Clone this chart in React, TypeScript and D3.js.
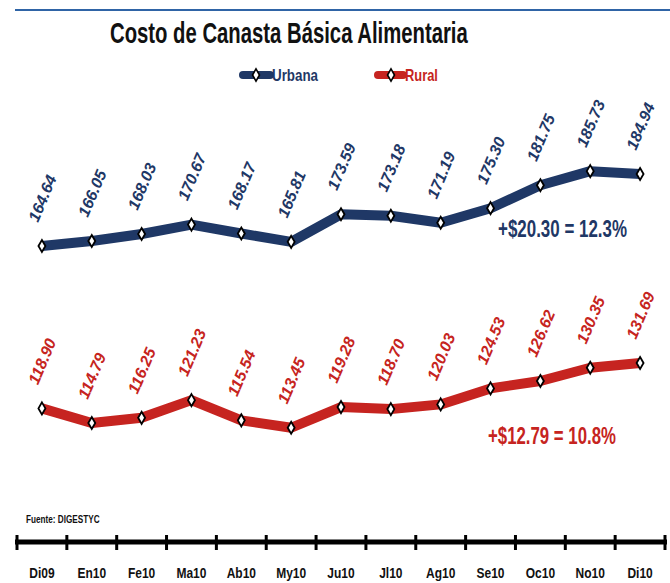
import React from 'react';
import * as d3 from 'd3';

const months = ['Di09', 'En10', 'Fe10', 'Ma10', 'Ab10', 'My10', 'Ju10', 'Jl10', 'Ag10', 'Se10', 'Oc10', 'No10', 'Di10'];
const urbana = [164.64, 166.05, 168.03, 170.67, 168.17, 165.81, 173.59, 173.18, 171.19, 175.3, 181.75, 185.73, 184.94];
const rural = [118.9, 114.79, 116.25, 121.23, 115.54, 113.45, 119.28, 118.7, 120.03, 124.53, 126.62, 130.35, 131.69];
const urbanaLabels = ['164.64', '166.05', '168.03', '170.67', '168.17', '165.81', '173.59', '173.18', '171.19', '175.30', '181.75', '185.73', '184.94'];
const ruralLabels = ['118.90', '114.79', '116.25', '121.23', '115.54', '113.45', '119.28', '118.70', '120.03', '124.53', '126.62', '130.35', '131.69'];

const W = 670;
const H = 583;
const NAVY = '#1f3866';
const RED = '#c62420';
const FONT = "'Liberation Sans', Arial, sans-serif";

const x = d3.scaleBand<string>().domain(months).range([17, 665]).padding(0);
const y = d3.scaleLinear().domain([110, 190]).range([440, 156]);
const line = d3.line<number>()
  .x((_, i) => (x(months[i]) ?? 0) + x.bandwidth() / 2)
  .y(d => y(d));
const diamond = d3.symbol().type(d3.symbolDiamond).size(42)() ?? '';

// bold text squeezed horizontally (no narrow font installed)
function Narrow({ x, y, size, sx, fill, anchor = 'start', children }: {
  x: number; y: number; size: number; sx: number; fill: string; anchor?: string; children: React.ReactNode;
}) {
  return (
    <text
      transform={`translate(${x},${y}) scale(${sx},1)`}
      textAnchor={anchor}
      fontSize={size}
      fontWeight="bold"
      fontFamily={FONT}
      fill={fill}
    >
      {children}
    </text>
  );
}

function Series({ values, labels, color }: { values: number[]; labels: string[]; color: string }) {
  return (
    <g>
      <path d={line(values) ?? ''} fill="none" stroke={color} strokeWidth={10} strokeLinejoin="round" />
      {values.map((v, i) => {
        const cx = (x(months[i]) ?? 0) + x.bandwidth() / 2;
        const cy = y(v);
        return (
          <g key={i}>
            <path d={diamond} transform={`translate(${cx},${cy})`} fill="#fff" stroke="#000" strokeWidth={1.8} />
            <text
              transform={`translate(${cx - 4},${cy - 23}) rotate(-67)`}
              fill={color}
              fontSize={16}
              fontWeight="bold"
              fontStyle="italic"
              fontFamily={FONT}
            >
              {labels[i]}
            </text>
          </g>
        );
      })}
    </g>
  );
}

export default function App() {
  const ticks = [...months.map(m => x(m) ?? 0), x.range()[1]];
  return (
    <svg width={W} height={H} style={{ position: 'absolute', left: 0, top: 0, background: '#fff' }}>
      <line x1={15} x2={670} y1={10} y2={10} stroke="#2f64a6" strokeWidth={2} />
      <Narrow x={110} y={43} size={29} sx={0.7} fill="#111">Costo de Canasta Básica Alimentaria</Narrow>

      <line x1={243} x2={270} y1={75} y2={75} stroke={NAVY} strokeWidth={8} strokeLinecap="round" />
      <path d={diamond} transform="translate(256,75)" fill="#fff" stroke="#000" strokeWidth={1.6} />
      <Narrow x={272} y={81} size={16.5} sx={0.81} fill={NAVY}>Urbana</Narrow>
      <line x1={378} x2={403} y1={75} y2={75} stroke={RED} strokeWidth={8} strokeLinecap="round" />
      <path d={diamond} transform="translate(391,75)" fill="#fff" stroke="#000" strokeWidth={1.6} />
      <Narrow x={405} y={81} size={16.5} sx={0.78} fill={RED}>Rural</Narrow>

      <Series values={urbana} labels={urbanaLabels} color={NAVY} />
      <Series values={rural} labels={ruralLabels} color={RED} />

      <Narrow x={498} y={237} size={24} sx={0.706} fill={NAVY}>+$20.30 = 12.3%</Narrow>
      <Narrow x={488} y={444} size={24} sx={0.7} fill={RED}>+$12.79 = 10.8%</Narrow>

      <Narrow x={26} y={523} size={10} sx={0.82} fill="#111">Fuente: DIGESTYC</Narrow>

      <line x1={15} x2={667} y1={542} y2={542} stroke="#000" strokeWidth={5} />
      {ticks.map((t, i) => (
        <line key={i} x1={t} x2={t} y1={535} y2={550} stroke="#000" strokeWidth={3} />
      ))}
      {months.map(m => (
        <Narrow key={m} x={(x(m) ?? 0) + x.bandwidth() / 2} y={578} size={15} sx={0.8} fill="#111" anchor="middle">
          {m}
        </Narrow>
      ))}
    </svg>
  );
}
